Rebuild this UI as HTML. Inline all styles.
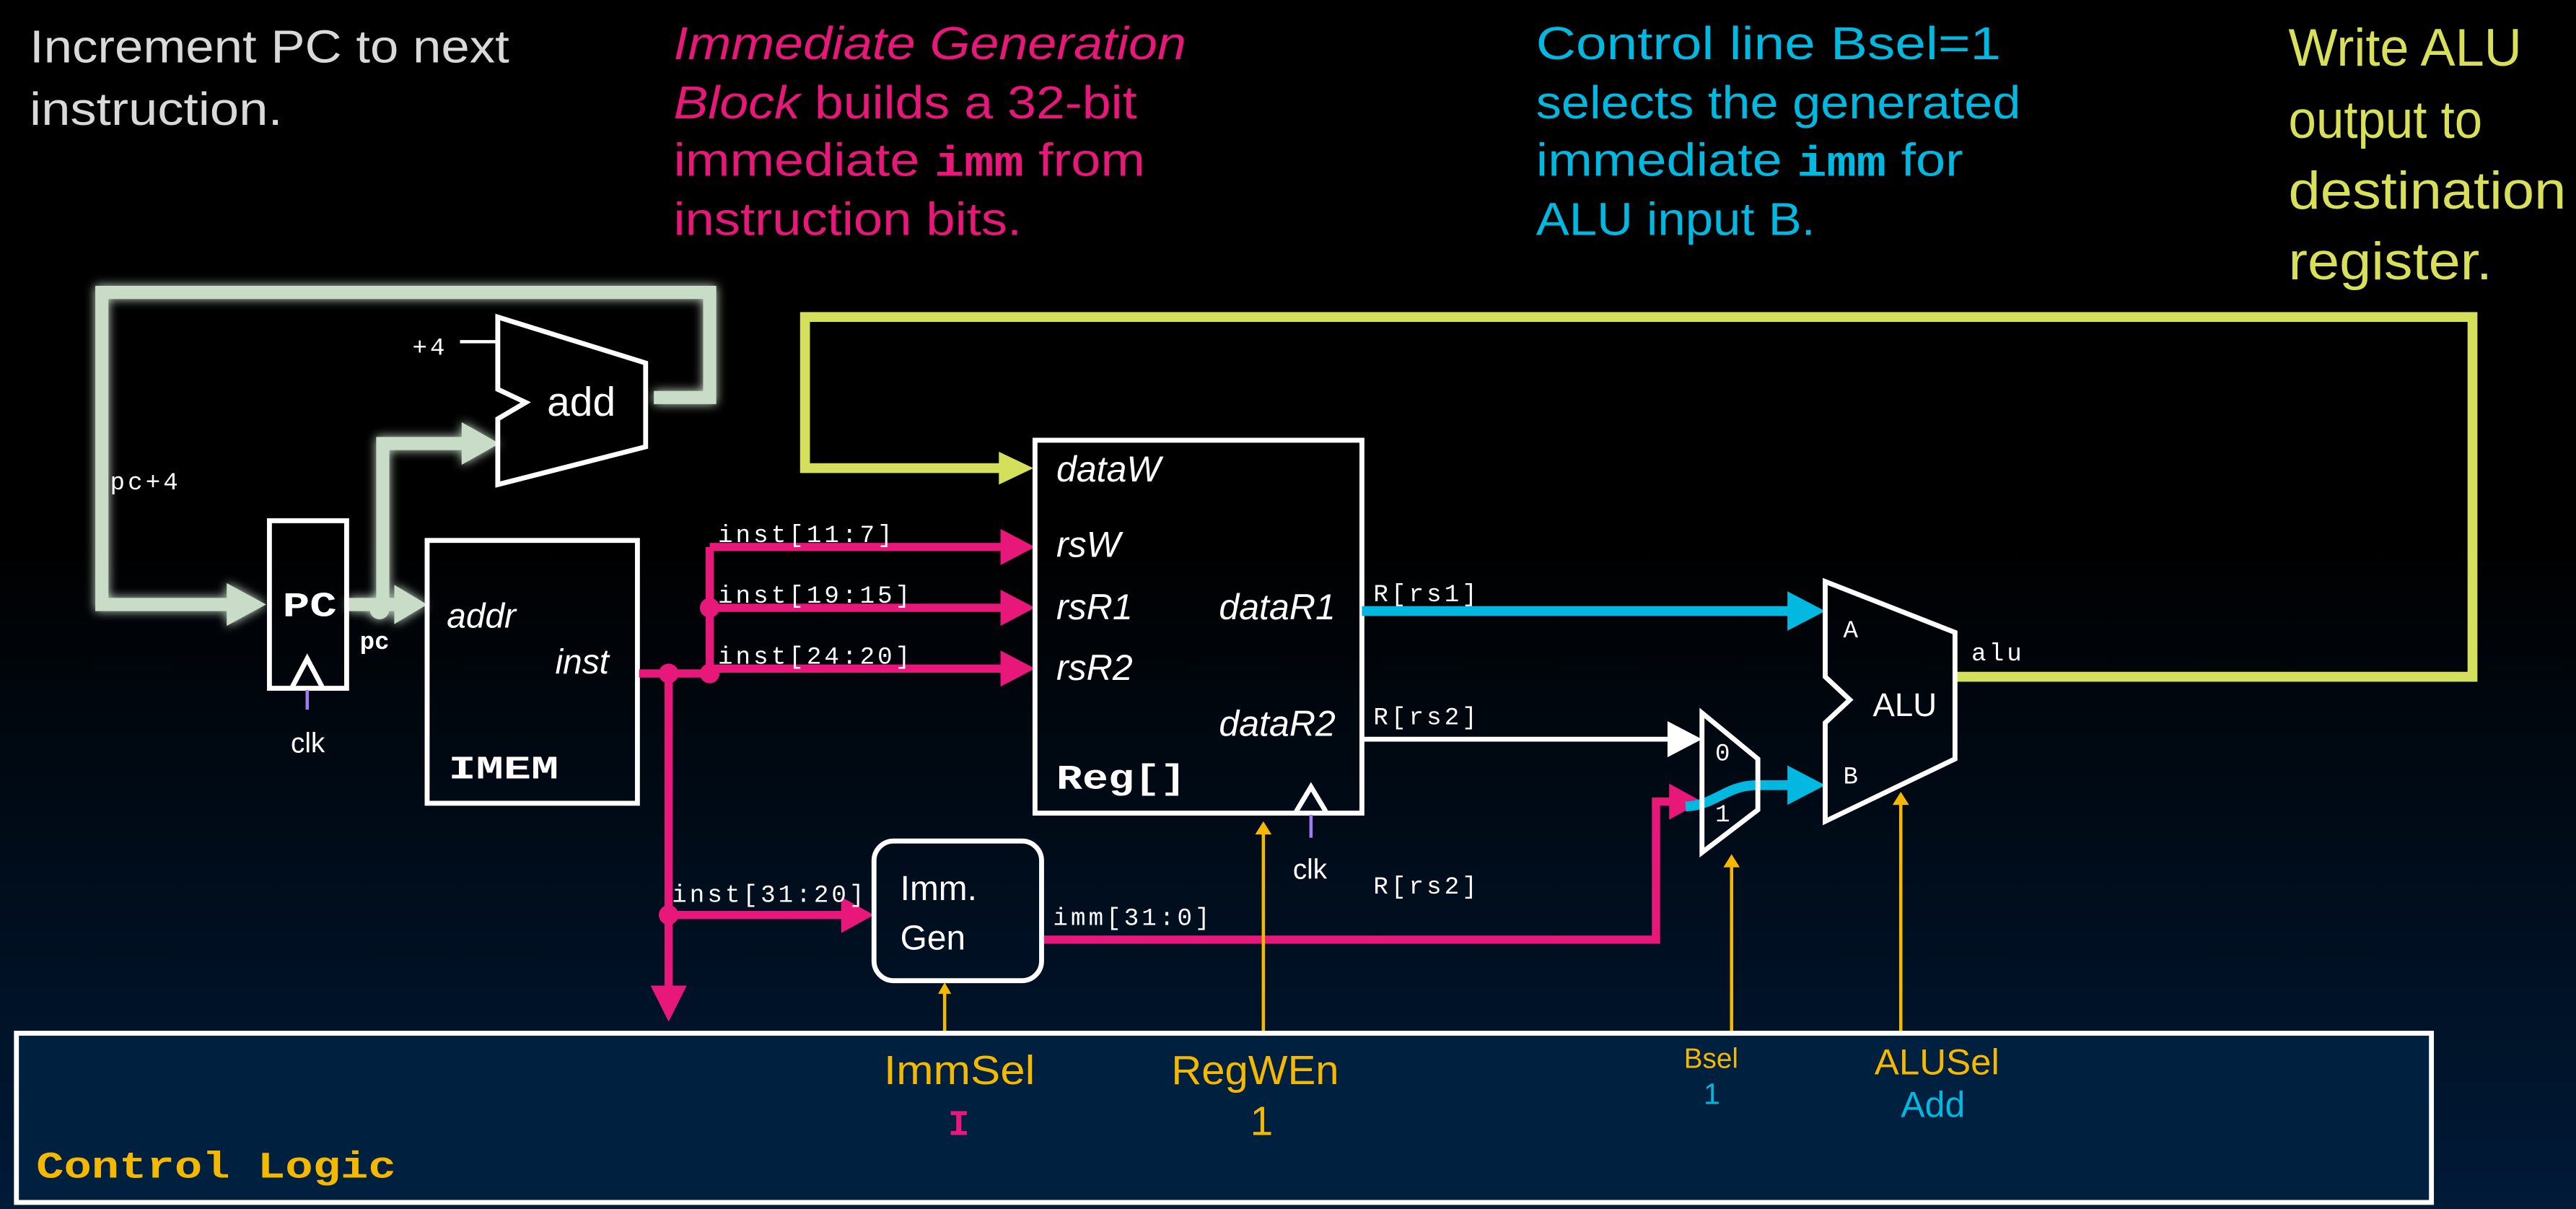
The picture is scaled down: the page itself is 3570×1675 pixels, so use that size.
<!DOCTYPE html>
<html><head><meta charset="utf-8"><style>
html,body{margin:0;padding:0;width:3570px;height:1675px;overflow:hidden;background:#000}
svg{display:block}
.s{font-family:"Liberation Sans",sans-serif}
.m{font-family:"Liberation Mono",monospace}
.lb{letter-spacing:1.8px}
</style></head><body>
<svg width="3570" height="1675" viewBox="0 0 1568 736" preserveAspectRatio="none" xmlns="http://www.w3.org/2000/svg">
<defs>
<linearGradient id="bg" x1="0" y1="0" x2="0" y2="1">
<stop offset="0" stop-color="#000"/><stop offset="0.45" stop-color="#000"/><stop offset="1" stop-color="#001a38"/>
</linearGradient>
<filter id="glow" x="-10%" y="-10%" width="120%" height="120%"><feGaussianBlur stdDeviation="3" result="b"/><feMerge><feMergeNode in="b"/><feMergeNode in="SourceGraphic"/></feMerge></filter>
</defs>
<rect width="1568" height="736" fill="url(#bg)"/>

<!-- annotations -->
<g class="s" font-size="28">
<text x="18" y="38" fill="#d9d9d9" textLength="292" lengthAdjust="spacingAndGlyphs">Increment PC to next</text>
<text x="18" y="76" fill="#d9d9d9" textLength="154" lengthAdjust="spacingAndGlyphs">instruction.</text>
<g fill="#e8177a">
<text x="410" y="36" font-style="italic" textLength="312" lengthAdjust="spacingAndGlyphs">Immediate Generation</text>
<text x="410" y="72" textLength="282" lengthAdjust="spacingAndGlyphs"><tspan font-style="italic">Block</tspan> builds a 32-bit</text>
<text x="410" y="107" textLength="287" lengthAdjust="spacingAndGlyphs">immediate <tspan class="m" font-weight="bold" font-size="26">imm</tspan> from</text>
<text x="410" y="143" textLength="212" lengthAdjust="spacingAndGlyphs">instruction bits.</text>
</g>
<g fill="#00b8e0">
<text x="935" y="36" textLength="283" lengthAdjust="spacingAndGlyphs">Control line Bsel=1</text>
<text x="935" y="72" textLength="295" lengthAdjust="spacingAndGlyphs">selects the generated</text>
<text x="935" y="107" textLength="260" lengthAdjust="spacingAndGlyphs">immediate <tspan class="m" font-weight="bold" font-size="26">imm</tspan> for</text>
<text x="935" y="143" textLength="170" lengthAdjust="spacingAndGlyphs">ALU input B.</text>
</g>
<g fill="#d8e05a" font-size="32">
<text x="1393" y="40" textLength="142" lengthAdjust="spacingAndGlyphs">Write ALU</text>
<text x="1393" y="84" textLength="118" lengthAdjust="spacingAndGlyphs">output to</text>
<text x="1393" y="127" textLength="169" lengthAdjust="spacingAndGlyphs">destination</text>
<text x="1393" y="170" textLength="124" lengthAdjust="spacingAndGlyphs">register.</text>
</g>
</g>

<!-- PC loop (green glow) -->
<g stroke="#c8dcc8" fill="none" stroke-width="8" filter="url(#glow)">
<polyline points="398,242 432,242 432,178 62,178 62,368 140,368"/>
<polyline points="212,368 233,368 233,270 284,270"/>
<line x1="233" y1="368" x2="242" y2="368"/>
</g>
<g fill="#c8dcc8" filter="url(#glow)">
<polygon points="138,355 162,368 138,381"/>
<polygon points="281,257 304,270 281,283"/>
<polygon points="240,356 260,368 240,380"/>
<circle cx="231" cy="371" r="6"/>
</g>

<!-- writeback yellow -->
<polyline points="1190,412 1505,412 1505,193 490,193 490,285 610,285" stroke="#d4df5c" stroke-width="6" fill="none"/>
<polygon points="608,275 629,285 608,295" fill="#d4df5c"/>

<!-- PC box -->
<rect x="164" y="317" width="47" height="102" fill="none" stroke="#fff" stroke-width="3"/>
<text x="172" y="375" class="m" font-weight="bold" font-size="21" fill="#fff" textLength="33" lengthAdjust="spacingAndGlyphs">PC</text>
<polyline points="178,418 187,401 196,418" fill="none" stroke="#fff" stroke-width="3"/>
<line x1="187" y1="420" x2="187" y2="432" stroke="#a07cf0" stroke-width="2"/>
<text x="177" y="458" class="s" font-size="17" fill="#fff">clk</text>
<text x="219" y="395" class="m" font-weight="bold" font-size="15" fill="#fff">pc</text>
<text x="67" y="298" class="m lb" font-size="15" fill="#fff">pc+4</text>

<!-- add -->
<polygon points="303,193 393,221 393,272 303,295 303,255 320,245 303,237" fill="none" stroke="#fff" stroke-width="3"/>
<text x="333" y="253" class="s" font-size="25" fill="#fff">add</text>
<text x="251" y="216" class="m lb" font-size="15" fill="#fff">+4</text>
<line x1="280" y1="208" x2="303" y2="208" stroke="#fff" stroke-width="2"/>

<!-- IMEM -->
<rect x="260" y="329" width="128" height="160" fill="none" stroke="#fff" stroke-width="3"/>
<text x="272" y="382" class="s" font-style="italic" font-size="21" fill="#fff">addr</text>
<text x="338" y="410" class="s" font-style="italic" font-size="21" fill="#fff">inst</text>
<text x="273" y="474" class="m" font-weight="bold" font-size="20" fill="#fff" textLength="67" lengthAdjust="spacingAndGlyphs">IMEM</text>

<!-- pink inst wires -->
<g stroke="#e8177a" stroke-width="5" fill="none">
<line x1="389" y1="410" x2="432" y2="410"/>
<line x1="432" y1="333" x2="432" y2="410"/>
<line x1="407" y1="410" x2="407" y2="602"/>
<line x1="432" y1="333" x2="612" y2="333"/>
<line x1="432" y1="370" x2="612" y2="370"/>
<line x1="432" y1="407" x2="612" y2="407"/>
<line x1="407" y1="557" x2="514" y2="557"/>
<polyline points="634,572 1008,572 1008,488 1018,488"/>
</g>
<g fill="#e8177a">
<circle cx="407" cy="410" r="6"/><circle cx="432" cy="410" r="6"/><circle cx="432" cy="370" r="6"/><circle cx="407" cy="557" r="6"/>
<polygon points="609,322 630,333 609,344"/>
<polygon points="609,359 630,370 609,381"/>
<polygon points="609,396 630,407 609,418"/>
<polygon points="512,546 532,557 512,568"/>
<polygon points="396,600 418,600 407,622"/>
<polygon points="1016,477 1036,488 1016,499"/>
</g>
<g class="m lb" font-size="15" fill="#fff">
<text x="437" y="330">inst[11:7]</text>
<text x="437" y="367">inst[19:15]</text>
<text x="437" y="404">inst[24:20]</text>
<text x="409" y="549">inst[31:20]</text>
<text x="641" y="563">imm[31:0]</text>
<text x="836" y="366">R[rs1]</text>
<text x="836" y="441">R[rs2]</text>
<text x="836" y="544">R[rs2]</text>
<text x="1200" y="402">alu</text>
<text x="366" y="656">inst[31:0]</text>
</g>

<!-- Imm gen -->
<rect x="532" y="512" width="102" height="85" rx="12" fill="none" stroke="#fff" stroke-width="3"/>
<text x="548" y="548" class="s" font-size="21" fill="#fff">Imm.</text>
<text x="548" y="578" class="s" font-size="21" fill="#fff">Gen</text>

<!-- Reg -->
<rect x="630" y="268" width="199" height="227" fill="none" stroke="#fff" stroke-width="3"/>
<g class="s" font-style="italic" font-size="22" fill="#fff">
<text x="643" y="293">dataW</text>
<text x="643" y="339">rsW</text>
<text x="643" y="377">rsR1</text>
<text x="643" y="414">rsR2</text>
<text x="742" y="377">dataR1</text>
<text x="742" y="448">dataR2</text>
</g>
<text x="643" y="480" class="m" font-weight="bold" font-size="21" fill="#fff" textLength="79" lengthAdjust="spacingAndGlyphs">Reg[]</text>
<polyline points="789,494 798,479 807,494" fill="none" stroke="#fff" stroke-width="3"/>
<line x1="798" y1="496" x2="798" y2="510" stroke="#a07cf0" stroke-width="2"/>
<text x="787" y="535" class="s" font-size="17" fill="#fff">clk</text>

<!-- data wires -->
<line x1="829" y1="372" x2="1092" y2="372" stroke="#00b8e0" stroke-width="6"/>
<polygon points="1088,360 1111,372 1088,384" fill="#00b8e0"/>
<line x1="829" y1="450" x2="1018" y2="450" stroke="#fff" stroke-width="3"/>
<polygon points="1015,439 1036,450 1015,461" fill="#fff"/>
<path d="M1026,491 C1045,490 1050,478 1070,478 L1092,478" stroke="#00b8e0" stroke-width="6" fill="none"/>
<polygon points="1088,466 1111,478 1088,490" fill="#00b8e0"/>

<!-- mux -->
<polygon points="1036,434 1070,462 1070,493 1036,519" fill="none" stroke="#fff" stroke-width="3"/>
<text x="1044" y="463" class="m" font-size="15" fill="#fff">0</text>
<text x="1044" y="500" class="m" font-size="15" fill="#fff">1</text>

<!-- ALU -->
<polygon points="1111,354 1190,385 1190,462 1111,500 1111,440 1126,426 1111,412" fill="none" stroke="#fff" stroke-width="3"/>
<text x="1122" y="388" class="m" font-size="15" fill="#fff">A</text>
<text x="1122" y="477" class="m" font-size="15" fill="#fff">B</text>
<text x="1140" y="436" class="s" font-size="20" fill="#fff">ALU</text>

<!-- control lines -->
<g stroke="#f5b800" stroke-width="2">
<line x1="575" y1="604" x2="575" y2="629"/>
<line x1="769" y1="506" x2="769" y2="629"/>
<line x1="1054" y1="526" x2="1054" y2="629"/>
<line x1="1157" y1="488" x2="1157" y2="629"/>
</g>
<g fill="#f5b800">
<polygon points="571,605 579,605 575,598"/>
<polygon points="764,508 774,508 769,500"/>
<polygon points="1049,528 1059,528 1054,520"/>
<polygon points="1152,490 1162,490 1157,482"/>
</g>

<!-- Control logic -->
<rect x="10" y="629" width="1470" height="103" fill="#00203f" stroke="#fff" stroke-width="3"/>
<text x="22" y="717" class="m" font-weight="bold" font-size="23" fill="#f5b800" textLength="219" lengthAdjust="spacingAndGlyphs">Control Logic</text>
<text x="538" y="660" class="s" font-size="25" fill="#f5b800" textLength="92" lengthAdjust="spacingAndGlyphs">ImmSel</text>
<text x="577" y="691" class="m" font-weight="bold" font-size="22" fill="#e8177a">I</text>
<text x="713" y="660" class="s" font-size="25" fill="#f5b800" textLength="102" lengthAdjust="spacingAndGlyphs">RegWEn</text>
<text x="761" y="691" class="s" font-size="25" fill="#f5b800">1</text>
<text x="1025" y="650" class="s" font-size="17" fill="#f5b800">Bsel</text>
<text x="1037" y="672" class="s" font-size="18" fill="#00b8e0">1</text>
<text x="1141" y="654" class="s" font-size="22" fill="#f5b800" textLength="76" lengthAdjust="spacingAndGlyphs">ALUSel</text>
<text x="1157" y="680" class="s" font-size="22" fill="#00b8e0">Add</text>
</svg>
</body></html>
